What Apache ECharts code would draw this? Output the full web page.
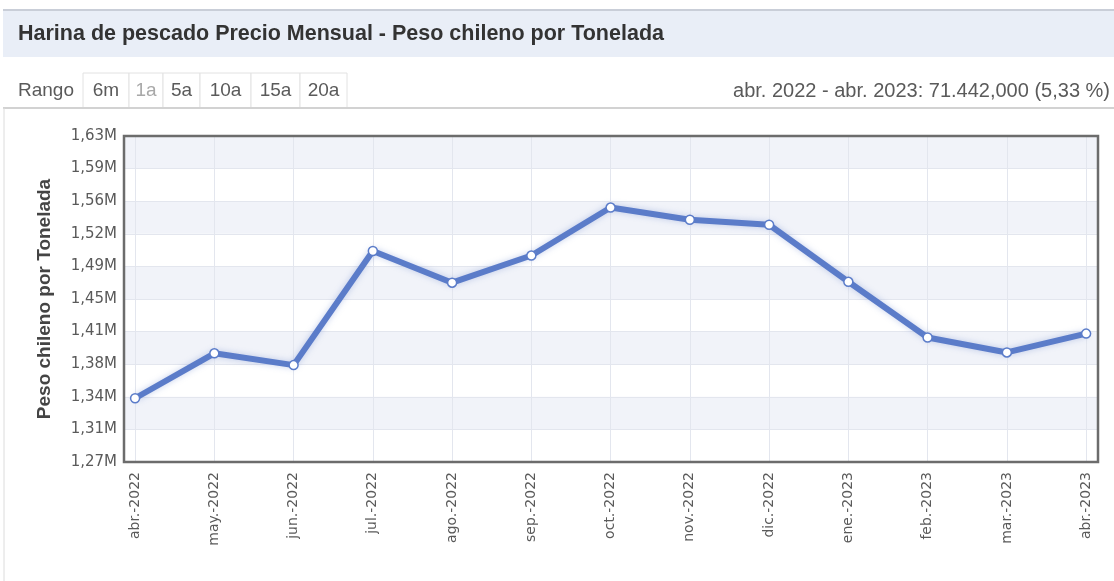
<!DOCTYPE html>
<html lang="es">
<head>
    <meta charset="UTF-8">
    <title>Harina de pescado Precio Mensual</title>
    <script src="https://cdn.jsdelivr.net/npm/echarts@6/dist/echarts.min.js"></script>
    <style>
        html, body { margin: 0; padding: 0; background: #fff; }
        #main { width: 1114px; height: 581px; }
    </style>
</head>
<body>
<div id="main"></div>
<script>
    // datos
    const months = ['abr.-2022', 'may.-2022', 'jun.-2022', 'jul.-2022', 'ago.-2022', 'sep.-2022',
        'oct.-2022', 'nov.-2022', 'dic.-2022', 'ene.-2023', 'feb.-2023', 'mar.-2023', 'abr.-2023'];
    const prices = [1340400, 1390000, 1377000, 1503000, 1468000, 1498000,
        1551000, 1537500, 1532000, 1469000, 1407500, 1391000, 1411800];
    const yTicks = [1270000, 1306000, 1342000, 1378000, 1414000, 1450000,
        1486000, 1522000, 1558000, 1594000, 1630000];
    const xTicks = months.map((m, i) => i);
    const ranges = ['6m', '1a', '5a', '10a', '15a', '20a'];

    const lineColor = '#5b7cc9';
    const textColor = '#5a5a5a';
    const uiFont = '19px "Liberation Sans", Arial, sans-serif';

    // botones de rango
    const btnEdges = [83, 129, 163, 200, 251, 300, 347];
    let buttons = [];
    ranges.forEach((r, i) => {
        buttons.push({
            type: 'rect',
            shape: {x: btnEdges[i], y: 73, width: btnEdges[i + 1] - btnEdges[i], height: 35},
            style: {fill: '#fff', stroke: '#e2e2e2', lineWidth: 1}
        });
        buttons.push({
            type: 'text',
            x: (btnEdges[i] + btnEdges[i + 1]) / 2, y: 91,
            style: {
                text: r, fill: r === '1a' ? '#a8a8a8' : textColor,
                font: uiFont, align: 'center', verticalAlign: 'middle'
            }
        });
    });

    let myChart = echarts.init(document.getElementById('main'));
    let option = {
        backgroundColor: '#fff',
        animation: false,
        graphic: [
            {type: 'rect', shape: {x: 3, y: 10, width: 1111, height: 47}, style: {fill: '#e9eef7'}},
            {type: 'line', shape: {x1: 3, y1: 10, x2: 1114, y2: 10}, style: {stroke: '#c9ced8', lineWidth: 2}},
            {
                type: 'text', x: 18, y: 34,
                style: {
                    text: 'Harina de pescado Precio Mensual - Peso chileno por Tonelada',
                    fill: '#333', font: 'bold 21.5px "Liberation Sans", Arial, sans-serif',
                    verticalAlign: 'middle'
                }
            },
            {
                type: 'text', x: 18, y: 91,
                style: {text: 'Rango', fill: textColor, font: uiFont, verticalAlign: 'middle'}
            },
            ...buttons,
            {
                type: 'text', x: 1110, y: 91,
                style: {
                    text: 'abr. 2022 - abr. 2023: 71.442,000 (5,33 %)',
                    fill: textColor, font: '20px "Liberation Sans", Arial, sans-serif',
                    align: 'right', verticalAlign: 'middle'
                }
            },
            {type: 'line', shape: {x1: 3, y1: 108, x2: 1114, y2: 108}, style: {stroke: '#d2d2d2', lineWidth: 2}},
            {type: 'line', shape: {x1: 4, y1: 108, x2: 4, y2: 581}, style: {stroke: '#dcdcdc', lineWidth: 1}}
        ],
        grid: {
            left: 124, right: 16, top: 136, bottom: 119, z: 1,
            show: true, borderColor: '#6c6c6c', borderWidth: 2.5, backgroundColor: 'transparent'
        },
        xAxis: {
            type: 'value',
            min: -0.14, max: 12.15,
            axisLine: {show: false},
            axisTick: {show: false, customValues: xTicks},
            splitLine: {show: true, lineStyle: {color: '#e3e6ee', width: 1}},
            axisLabel: {
                customValues: xTicks,
                rotate: 90, margin: 10,
                color: textColor, fontFamily: 'DejaVu Sans', fontSize: 14,
                formatter: v => months[v]
            }
        },
        yAxis: {
            type: 'value',
            min: 1270000, max: 1630000,
            name: 'Peso chileno por Tonelada',
            nameLocation: 'middle', nameGap: 70,
            nameTextStyle: {color: '#444', fontWeight: 'bold', fontSize: 19, fontFamily: 'Liberation Sans'},
            axisLine: {show: false},
            axisTick: {show: false, customValues: yTicks},
            splitLine: {show: true, lineStyle: {color: '#e3e6ee', width: 1}},
            splitArea: {show: true, areaStyle: {color: ['rgba(255,255,255,0)', '#f1f3f9']}},
            axisLabel: {
                customValues: yTicks,
                margin: 7,
                color: textColor, fontFamily: 'DejaVu Sans', fontSize: 15,
                formatter: v => (v / 1e6).toFixed(2).replace('.', ',') + 'M'
            }
        },
        series: [{
            type: 'line',
            data: prices.map((p, i) => [i, p]),
            symbol: 'circle', symbolSize: 9,
            lineStyle: {color: lineColor, width: 6, shadowColor: 'rgba(91,124,201,0.35)', shadowBlur: 6},
            itemStyle: {color: '#fff', borderColor: lineColor, borderWidth: 1.5}
        }]
    };
    myChart.setOption(option);
</script>
</body>
</html>
